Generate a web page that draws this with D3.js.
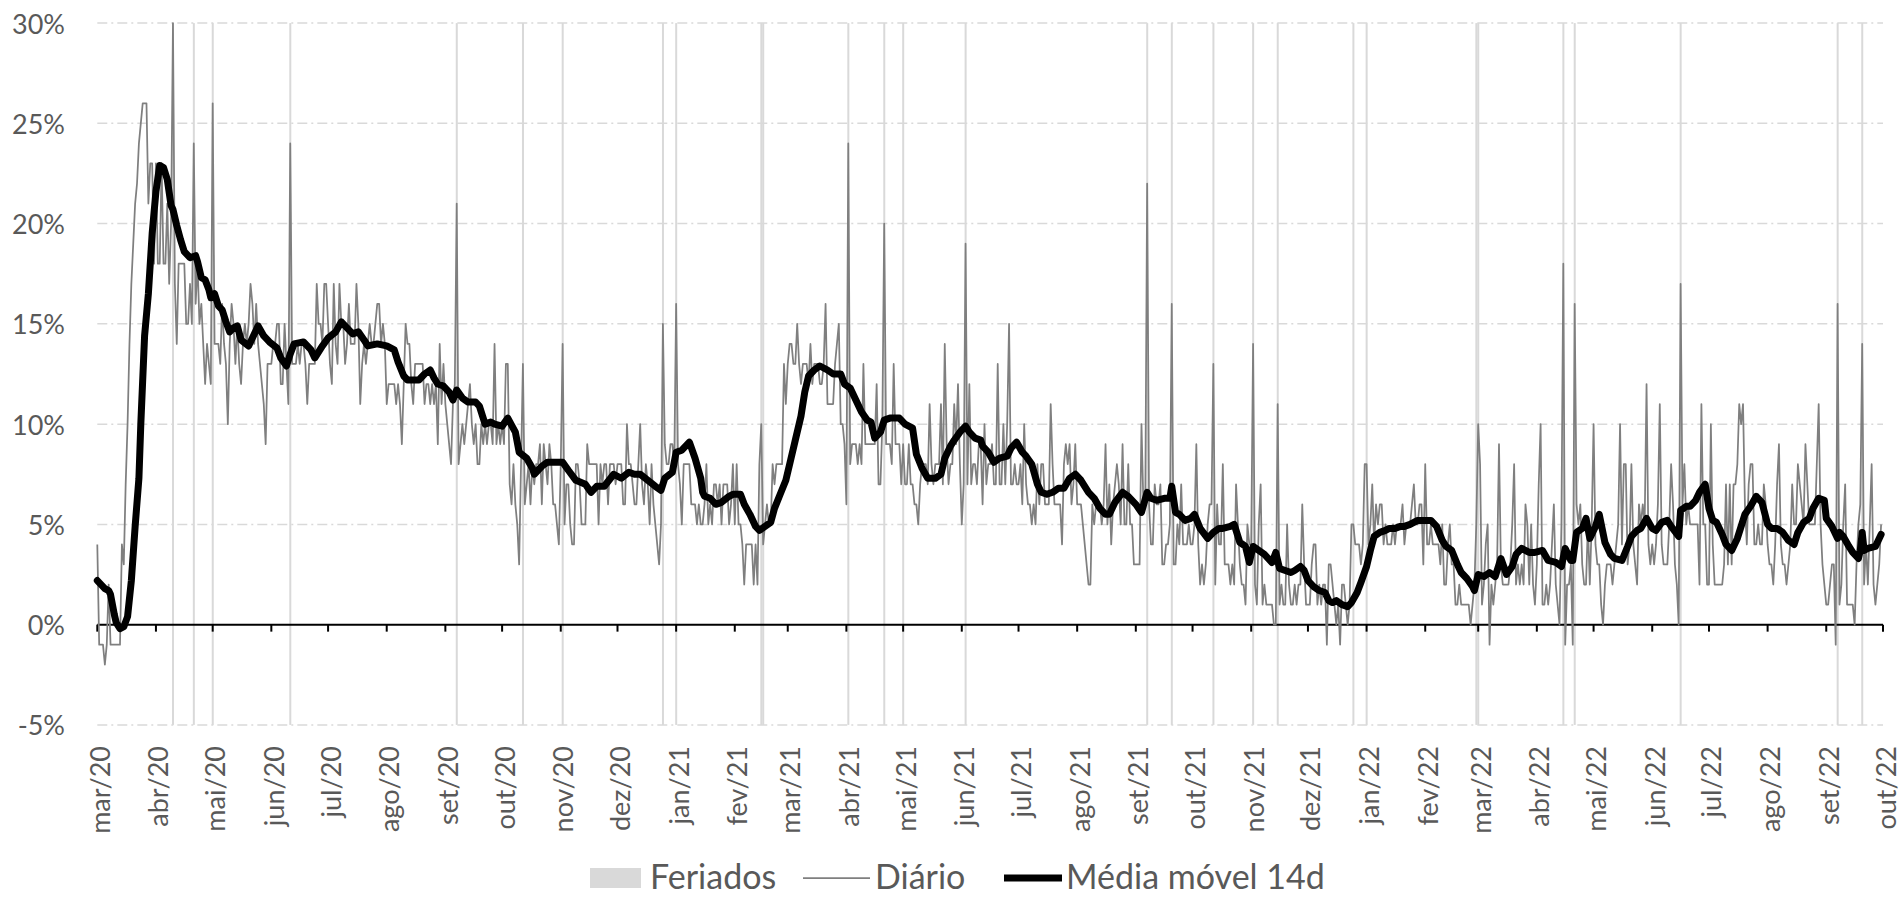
<!DOCTYPE html>
<html>
<head>
<meta charset="utf-8">
<script src="https://cdn.jsdelivr.net/npm/d3@7"></script>
<style>
  html, body { margin: 0; padding: 0; background: #fff; }
  svg text { font-family: Lato, "Noto Sans", sans-serif; fill: #595959; }
</style>
</head>
<body>
<div id="chart"></div>
<script>
// first day of the daily series, and end of the axis
var inicio = new Date(2020, 2, 1);
var fim = new Date(2022, 9, 1);

// daily value (%), one per day from 2020-03-01
var diario = [
  4,-1,-1,-1,-2,-1,2,-1,-1,-1,-1,-1,-1,4,3,7,10,14,17,19,21,22,24,25,26,26,26,21,23,23,18, // mar/20
  23,18,18,23,18,18,21,17,20,30,17,14,18,18,18,18,15,15,17,15,24,16,18,15,16,14,12,14,13,12, // abr/20
  26,14,14,14,13,16,14,13,10,14,16,15,13,15,13,12,14,15,14,15,17,16,14,16,14,13,12,11,9,13,13, // mai/20
  13,14,14,15,15,12,12,15,13,11,24,13,13,13,14,13,14,14,13,11,13,13,13,13,17,15,15,14,17,17, // jun/20
  15,13,12,17,14,13,17,15,15,13,14,16,14,14,14,17,15,11,13,14,13,14,15,14,14,15,16,16,14,15,14, // jul/20
  11,12,12,12,12,11,12,11,9,12,15,14,14,12,11,13,13,13,13,13,11,12,12,11,12,11,12,9,14,11,13, // ago/20
  11,10,9,8,11,12,21,8,9,10,9,10,11,12,10,9,10,8,8,10,9,10,9,10,10,9,14,9,10,9, // set/20
  10,9,13,13,7,6,8,6,5,3,8,13,6,7,8,6,8,7,8,8,9,6,9,8,7,9,8,6,6,5,4, // out/20
  8,14,5,7,7,5,4,4,8,8,7,5,5,5,9,8,8,8,8,8,5,8,7,8,8,6,8,8,8,7, // nov/20
  8,8,8,6,6,10,8,8,7,6,6,8,10,7,6,8,7,5,8,6,5,4,3,5,15,9,8,8,9,9,8, // dez/20
  16,8,7,5,8,8,8,8,6,6,6,5,6,5,5,6,8,5,6,5,7,7,6,7,5,7,7,7,5,6,8, // jan/21
  5,8,5,5,4,2,4,4,4,4,2,4,2,8,10,4,5,6,5,5,8,7,8,8,8,8,13,11, // fev/21
  13,14,14,13,13,15,13,12,13,13,13,12,14,12,13,13,13,12,12,13,16,11,11,11,11,13,14,15,10,10,9, // mar/21
  6,24,8,9,9,9,8,9,8,13,9,9,9,9,9,9,12,7,7,10,20,9,9,9,8,13,9,9,9,7, // abr/21
  9,7,7,9,7,7,6,6,5,7,8,8,8,7,11,8,7,8,8,8,11,7,14,9,7,8,8,11,9,12,8, // mai/21
  5,7,19,7,12,7,8,8,7,9,9,6,10,7,8,8,9,7,7,13,7,7,10,7,10,15,7,7,8,7, // jun/21
  7,8,6,10,7,6,6,5,6,5,8,6,8,8,6,6,6,11,8,6,6,6,6,4,8,9,8,9,6,7,9, // jul/21
  6,6,6,5,4,3,2,2,6,5,6,6,6,5,6,9,5,7,4,6,7,8,7,5,9,5,5,8,5,5,3, // ago/21
  3,3,3,10,6,6,22,6,4,4,7,6,6,7,3,3,4,4,5,16,3,3,5,4,7,4,4,4,5,4, // set/21
  4,5,9,4,2,3,2,3,5,6,6,13,2,6,4,4,8,3,3,3,2,3,2,7,5,3,2,2,1,5,4, // out/21
  4,14,2,1,5,7,1,2,1,1,1,1,0,0,11,1,2,1,1,5,2,1,1,2,1,2,2,6,3,1, // nov/21
  1,1,3,4,4,1,2,1,2,2,-1,3,3,2,1,0,1,-1,2,2,1,0,1,5,5,4,4,4,3,4,8, // dez/21
  8,4,5,7,4,6,5,6,6,4,5,4,4,4,5,4,5,5,5,6,4,5,5,5,6,7,5,5,6,6,3, // jan/22
  8,4,4,5,4,4,4,4,3,5,2,2,4,5,3,3,1,1,2,1,1,1,1,1,0,1,2,5, // fev/22
  10,8,1,2,4,5,-1,2,1,2,3,9,3,2,2,2,2,3,5,8,2,3,2,3,2,6,5,2,5,2,1, // mar/22
  3,7,10,1,1,2,1,2,4,6,2,1,0,5,18,-1,2,2,3,-1,16,6,5,6,3,2,2,5,2,5, // abr/22
  10,4,3,3,1,0,2,3,3,3,2,3,4,5,10,4,8,8,3,4,8,4,3,2,6,5,6,5,12,4,3, // mai/22
  4,3,4,6,11,4,3,3,3,5,8,6,3,2,0,17,6,8,5,6,5,5,5,5,5,2,11,5,5,2, // jun/22
  2,10,4,2,2,2,2,2,3,7,3,7,3,7,7,8,11,10,11,6,4,7,8,8,4,4,5,4,4,7,6, // jul/22
  4,3,3,2,4,7,9,4,3,3,2,3,4,7,5,5,8,7,6,5,9,7,5,5,5,5,8,11,5,3,2, // ago/22
  1,1,2,3,3,-1,16,1,2,5,7,1,1,1,1,0,3,5,6,14,2,4,2,5,8,2,1,2,3,5  // set/22
];

// 14-day moving average (%), read at these days counted from 2020-03-01
var mediaDia = [
  0,2,4,6,7,8,9,10,12,14,16,18,20,22,23,25,27,29,31,33,35,37,39,40,42,44,46,49,52,53,55,57,59,60,
  62,64,66,68,70,72,74,76,80,83,85,88,91,95,97,100,102,104,109,113,115,119,122,126,129,132,135,138,
  141,143,148,153,157,159,162,164,170,173,176,178,180,183,186,188,190,193,196,200,202,205,208,210,
  214,217,221,223,227,230,231,235,238,242,246,249,253,258,261,264,268,273,277,281,284,287,291,295,
  298,300,304,306,309,312,313,316,319,320,321,324,327,330,334,336,340,342,345,348,350,353,356,358,
  361,364,366,369,372,374,376,379,382,386,389,393,395,398,401,404,407,409,411,414,416,419,424,427,
  431,433,436,439,443,446,448,451,453,456,459,461,464,467,468,471,474,477,481,483,486,489,491,494,
  497,499,502,505,508,511,514,517,520,524,527,530,533,535,538,542,545,549,552,555,557,560,564,567,
  568,570,572,575,578,580,583,587,590,593,595,599,601,604,607,609,611,614,617,621,623,625,628,631,
  633,636,638,640,643,646,649,651,653,655,658,661,663,666,668,671,673,675,678,681,683,686,689,691,
  694,698,701,705,708,711,713,716,719,721,724,727,728,730,733,736,739,742,745,748,750,753,757,760,
  764,767,771,774,776,779,780,782,785,787,789,792,794,797,800,802,806,809,811,814,816,819,822,824,
  827,830,832,836,837,840,842,845,847,850,852,854,856,859,861,864,867,869,871,874,877,880,883,885,
  888,891,894,897,899,902,905,907,910,913,914,917,920,921,923,926,928,931,932,933,934,936,940,943
];
var mediaValor = [
  2.2,2.0,1.8,1.7,1.5,1.0,0.5,0.1,-0.2,-0.1,0.4,2.2,4.9,7.3,10.0,14.4,16.5,19.5,21.6,22.9,22.8,22.2,20.9,20.7,19.9,19.2,18.6,18.3,18.4,18.1,17.3,17.2,16.7,16.3,
  16.5,15.9,15.7,15.1,14.6,14.8,14.9,14.2,13.9,14.5,14.9,14.4,14.1,13.8,13.3,12.9,13.5,14.0,14.1,13.7,13.3,13.9,14.3,14.6,15.1,14.8,14.5,14.6,
  14.2,13.9,14.0,13.9,13.7,13.1,12.4,12.2,12.2,12.5,12.7,12.3,12.0,11.9,11.6,11.2,11.7,11.3,11.1,11.1,10.9,10.0,10.1,10.0,
  9.9,10.3,9.6,8.6,8.3,7.8,7.5,7.9,8.1,8.1,8.1,7.7,7.2,7.0,6.6,6.9,6.9,7.5,7.3,7.6,7.5,7.5,7.2,6.9,
  6.7,7.3,7.6,8.6,8.7,9.0,9.1,8.3,7.3,6.6,6.4,6.3,6.0,6.1,6.4,6.5,6.5,6.0,5.5,4.9,4.7,4.9,5.1,5.8,
  6.5,7.2,8.0,9.2,10.4,11.6,12.4,12.7,12.9,12.7,12.5,12.5,12.0,11.8,11.2,10.6,10.2,10.1,9.3,9.6,10.2,10.3,10.3,10.0,
  9.8,8.5,7.8,7.3,7.3,7.5,8.3,8.9,9.2,9.6,9.9,9.6,9.3,9.2,8.9,8.6,8.1,8.3,8.4,8.8,9.1,8.6,8.4,8.0,
  7.0,6.6,6.5,6.6,6.8,6.8,7.3,7.5,7.2,6.6,6.3,5.8,5.5,5.5,6.1,6.6,6.4,6.0,5.6,6.6,6.3,6.2,6.3,6.3,
  6.9,5.6,5.5,5.2,5.3,5.5,4.8,4.3,4.6,4.8,4.8,4.9,5.0,4.1,3.9,3.1,3.9,3.7,3.5,3.1,3.6,2.8,2.7,2.6,
  2.7,2.9,2.7,2.2,1.9,1.7,1.6,1.2,1.1,1.2,1.0,0.9,1.1,1.6,2.1,2.9,3.7,4.4,4.6,4.7,4.8,4.8,4.9,4.9,
  5.0,5.2,5.2,5.2,4.9,4.2,3.9,3.7,3.0,2.6,2.3,1.9,1.7,2.5,2.4,2.6,2.4,3.3,2.5,2.9,3.5,3.8,3.6,3.6,
  3.7,3.2,3.1,2.9,3.8,3.2,3.2,4.6,4.8,5.3,4.3,4.9,5.5,4.1,3.5,3.3,3.2,3.9,4.4,4.7,4.8,5.3,4.8,4.7,
  5.1,5.2,4.9,4.4,5.7,5.9,5.9,6.2,6.6,7.0,5.8,5.2,5.1,4.5,4.0,3.7,4.3,4.9,5.5,5.9,6.4,6.1,5.0,4.8,
  4.8,4.6,4.2,4.0,4.6,5.1,5.3,5.8,6.3,6.2,5.3,4.9,4.3,4.6,4.4,3.9,3.6,3.3,3.7,4.6,3.7,3.8,3.9,4.5
];

// holidays marked in the chart
var feriados = [
  "2020-04-10","2020-04-21","2020-05-01","2020-06-11","2020-09-07","2020-10-12","2020-11-02",
  "2020-12-25","2021-01-01","2021-02-15","2021-02-16","2021-04-02","2021-04-21","2021-05-01",
  "2021-06-03","2021-09-07","2021-09-20","2021-10-12","2021-11-02","2021-11-15","2021-12-25",
  "2022-01-01","2022-02-28","2022-03-01","2022-04-15","2022-04-21","2022-06-16","2022-09-07",
  "2022-09-20"
];

var yTicks = [-5, 0, 5, 10, 15, 20, 25, 30];
var meses = ["jan","fev","mar","abr","mai","jun","jul","ago","set","out","nov","dez"];
var legendaNomes = ["Feriados", "Diário", "Média móvel 14d"];

var width = 1901, height = 897;
var plot = {left: 97.3, right: 1883, top: 23.1, bottom: 724.9};

var svg = d3.select("#chart").append("svg")
    .attr("width", width)
    .attr("height", height)
    .style("display", "block");

svg.append("rect").attr("width", width).attr("height", height).attr("fill", "#fff");

var x = d3.scaleTime().domain([inicio, fim]).range([plot.left, plot.right]);
var y = d3.scaleLinear().domain([-5, 30]).range([plot.bottom, plot.top]);

var parse = d3.timeParse("%Y-%m-%d");

// gridlines (dash dot)
svg.append("g").selectAll("line")
    .data(yTicks.filter(function(v) { return v !== 0; }))
    .enter().append("line")
    .attr("x1", plot.left).attr("x2", plot.right)
    .attr("y1", function(d) { return y(d); })
    .attr("y2", function(d) { return y(d); })
    .style("stroke", "#d9d9d9")
    .style("stroke-width", 1.5)
    .style("stroke-dasharray", "10,4,2,4");

// holiday bars
var diaW = x(d3.timeDay.offset(inicio, 1)) - x(inicio);
svg.append("g").selectAll("rect")
    .data(feriados.map(parse))
    .enter().append("rect")
    .attr("x", function(d) { return x(d) - diaW / 2; })
    .attr("y", y(30))
    .attr("width", Math.max(diaW, 2))
    .attr("height", y(-5) - y(30))
    .style("fill", "#d9d9d9");

// y labels
svg.append("g").selectAll("text")
    .data(yTicks)
    .enter().append("text")
    .attr("x", 65)
    .attr("y", function(d) { return y(d); })
    .attr("text-anchor", "end")
    .attr("dominant-baseline", "central")
    .style("font-size", "27px")
    .text(function(d) { return d + "%"; });

// x axis on the zero line
var mesesTicks = d3.timeMonth.range(inicio, d3.timeDay.offset(fim, 1));
svg.append("line")
    .attr("x1", plot.left).attr("x2", plot.right)
    .attr("y1", y(0)).attr("y2", y(0))
    .style("stroke", "#000").style("stroke-width", 2);

svg.append("g").selectAll("line")
    .data(mesesTicks)
    .enter().append("line")
    .attr("x1", function(d) { return x(d); })
    .attr("x2", function(d) { return x(d); })
    .attr("y1", y(0)).attr("y2", y(0) + 7)
    .style("stroke", "#000").style("stroke-width", 2);

svg.append("g").selectAll("text")
    .data(mesesTicks)
    .enter().append("text")
    .attr("transform", function(d) { return "translate(" + (x(d) + 2) + ",746) rotate(-90)"; })
    .attr("text-anchor", "end")
    .attr("dominant-baseline", "central")
    .style("font-size", "27px")
    .text(function(d) { return meses[d.getMonth()] + "/" + String(d.getFullYear()).slice(2); });

// daily line
var linhaDiario = d3.line()
    .x(function(d, i) { return x(d3.timeDay.offset(inicio, i)); })
    .y(function(d) { return y(d); });

svg.append("path")
    .datum(diario)
    .attr("d", linhaDiario)
    .style("fill", "none")
    .style("stroke", "#7f7f7f")
    .style("stroke-width", 1.75)
    .style("stroke-linejoin", "round");

// moving average
var linhaMedia = d3.line()
    .x(function(d, i) { return x(d3.timeDay.offset(inicio, mediaDia[i])); })
    .y(function(d) { return y(d); });

svg.append("path")
    .datum(mediaValor)
    .attr("d", linhaMedia)
    .style("fill", "none")
    .style("stroke", "#000")
    .style("stroke-width", 7)
    .style("stroke-linejoin", "round")
    .style("stroke-linecap", "round");

// legend
var leg = svg.append("g").style("font-size", "34px");
leg.append("rect").attr("x", 590).attr("y", 868).attr("width", 51).attr("height", 20).style("fill", "#d9d9d9");
leg.append("text").attr("x", 650).attr("y", 889).text(legendaNomes[0]);
leg.append("line").attr("x1", 803).attr("x2", 870).attr("y1", 878).attr("y2", 878)
    .style("stroke", "#7f7f7f").style("stroke-width", 1.75);
leg.append("text").attr("x", 875).attr("y", 889).text(legendaNomes[1]);
leg.append("line").attr("x1", 1004).attr("x2", 1062).attr("y1", 878).attr("y2", 878)
    .style("stroke", "#000").style("stroke-width", 7);
leg.append("text").attr("x", 1066).attr("y", 889).text(legendaNomes[2]);
</script>
</body>
</html>
